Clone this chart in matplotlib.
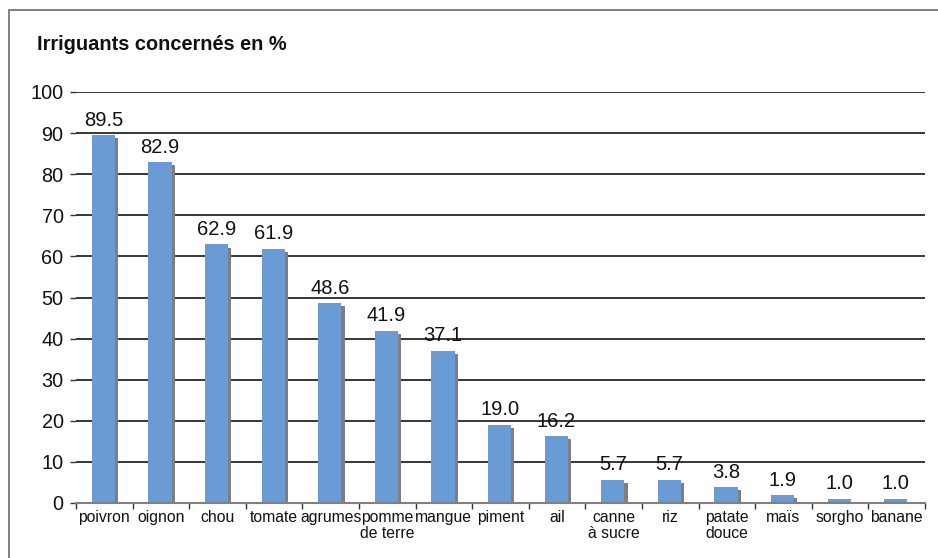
import matplotlib
matplotlib.use("Agg")
import matplotlib.pyplot as plt
import matplotlib.patheffects as pe
from matplotlib.patches import Rectangle
from matplotlib.ticker import FixedLocator, NullFormatter

plt.rcParams['font.family'] = ['Liberation Sans', 'DejaVu Sans']

categories = ["poivron", "oignon", "chou", "tomate", "agrumes", "pomme\nde terre",
              "mangue", "piment", "ail", "canne\nà sucre", "riz", "patate\ndouce",
              "maïs", "sorgho", "banane"]
values = [89.5, 82.9, 62.9, 61.9, 48.6, 41.9, 37.1, 19.0, 16.2, 5.7, 5.7, 3.8, 1.9, 1.0, 1.0]
yticks = [0, 10, 20, 30, 40, 50, 60, 70, 80, 90, 100]
title = "Irriguants concernés en %"

W, H = 938, 558
fig = plt.figure(figsize=(W / 100, H / 100), dpi=100)

# outer frame of the chart block
fig.patches.append(Rectangle((9 / W, -0.1), 1.2, 1 - 10 / H + 0.1, transform=fig.transFigure,
                             fill=False, edgecolor="#808080", linewidth=1.4))

ax = fig.add_axes([76 / W, 1 - 503 / H, (925 - 76) / W, (503 - 92) / H])
n = len(categories)
x = list(range(n))
bars = ax.bar(x, values, width=0.41, color="#6A9BD4", zorder=3, align="center")
for b in bars:
    b.set_x(b.get_x() - 0.015)
    b.set_path_effects([pe.SimplePatchShadow(offset=(2.2, -2.2), shadow_rgbFace="#7F7F7F", alpha=1.0),
                        pe.Normal()])

for xi, v in zip(x, values):
    ax.annotate(f"{v:.1f}", (xi - 0.015, v), xytext=(0, 4), textcoords="offset points",
                ha="center", va="bottom", fontsize=14.5, color="#111111", zorder=5)

ax.set_xlim(-0.5, n - 0.5)
ax.set_ylim(0, 100)
ax.set_yticks(yticks)
ax.set_yticklabels([str(t) for t in yticks], fontsize=14.3, color="#111111")
ax.yaxis.grid(True, color="black", linewidth=1.1, zorder=1)
ax.set_axisbelow(True)

ax.set_xticks(x)
ax.set_xticklabels(categories, fontsize=11.3, color="#111111", linespacing=1.1)
ax.xaxis.set_minor_locator(FixedLocator([i - 0.5 for i in range(n + 1)]))
ax.xaxis.set_minor_formatter(NullFormatter())
ax.tick_params(axis="x", which="major", length=0, pad=5)
ax.tick_params(axis="x", which="minor", length=4, width=1, color="#333333")
ax.tick_params(axis="y", length=4, width=1, color="#333333", pad=5)

for s in ["top", "right", "left"]:
    ax.spines[s].set_visible(False)
ax.spines["bottom"].set_color("#808080")
ax.spines["bottom"].set_linewidth(1.5)
ax.spines["bottom"].set_zorder(4)

fig.text(37 / W, 1 - 50 / H, title, fontsize=14.4, fontweight="bold", color="#111111",
         ha="left", va="baseline")

fig.savefig("out.png", dpi=100, facecolor="white")
